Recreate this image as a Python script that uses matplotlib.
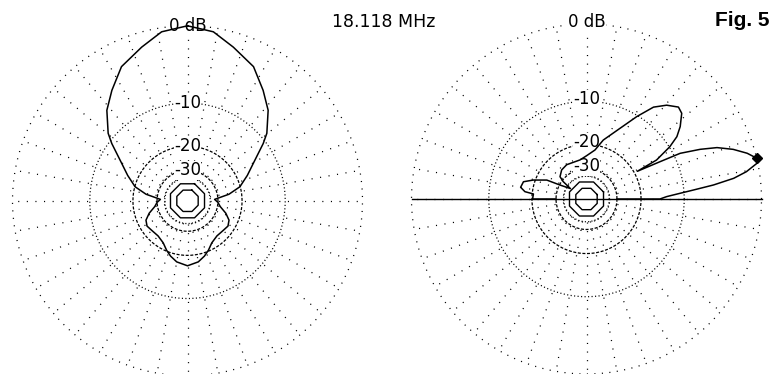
import numpy as np
import matplotlib
matplotlib.use("Agg")
import matplotlib.pyplot as plt

# ---------------- data ----------------
# Azimuth pattern (left), angle clockwise from top, right half (mirrored)
az_angles = [0, 8.7, 16.6, 26.2, 34.4, 41.7, 49.6, 52.9, 60.4, 67, 75, 81, 87,
             93, 100, 108, 115, 122, 130, 140, 150, 157, 163, 170, 180]
az_gain = [0, -0.4, -1.5, -2.7, -4.6, -6.3, -8.9, -10.5, -14.4, -17.0, -20.1, -24.5, -32.0,
           -30.0, -28.5, -25.2, -23.0, -22.3, -22.8, -23.0, -22.0, -20.3, -19.0, -17.8, -17.0]

# Elevation pattern (right), angle counter-clockwise from right horizon
el_angles = [0, 0, 1.7, 3.5, 4.8, 6.3, 8.0, 9.7, 11.8, 13.5, 15.9, 18.7, 21.5, 23.6, 26.0,
             26.9, 28.6, 29.1, 32.1, 34.6, 37.7, 42.0, 45.0, 49.5, 53.9, 58.6, 64.6, 74.1,
             80.2, 90.0, 99.5, 120.0, 130.5, 139.9, 143.3, 147.0, 152.2, 154.5, 160.4,
             164.7, 169.9, 173.2, 174.6, 180, 180]
el_gain = [-30, -14.9, -13.4, -10.7, -8.4, -5.4, -2.8, -1.3, -0.1, 0.0, -0.8, -2.1, -3.8, -5.9,
           -8.9, -12.9, -19.0, -13.4, -9.9, -8.0, -6.7, -5.35, -5.1, -6.0, -7.4, -10.2, -13.8,
           -18.0, -21.6, -24.0, -25.5, -25.5, -26.1, -27.8, -30.9, -38.0, -30.3, -23.7, -19.4,
           -16.9, -16.5, -17.8, -20.4, -20.2, -30]
el_max_angle = 13.5
el_max_gain = 0.0

ring_labels = ["0 dB", "-10", "-20", "-30"]
ring_db = [0, -10, -20, -30]
freq_text = "18.118 MHz"
fig_text = "Fig. 5"

# ---------------- helpers ----------------
FONT = "DejaVu Sans"
PX = 72.0 / 100.0  # points per pixel


def r_of(db):
    """ARRL log scale: radius shrinks by 0.89 every 2 dB."""
    return 0.89 ** (-np.asarray(db, dtype=float) / 2.0)


def dash(on_px, off_px, lw):
    unit = lw / PX
    return (0, (on_px / unit, off_px / unit))


def draw_grid(ax, top_theta, label_dy):
    th = np.linspace(0, 2 * np.pi, 1441)
    lw = 0.9
    # rings
    ax.plot(th, np.full_like(th, r_of(0)), color="k", lw=lw, ls=dash(1.1, 6.4, lw), clip_on=False, zorder=1)
    ax.plot(th, np.full_like(th, r_of(-10)), color="k", lw=lw, ls=dash(1.1, 2.4, lw), clip_on=False, zorder=1)
    ax.plot(th, np.full_like(th, r_of(-20)), color="k", lw=lw, ls=dash(3, 1.6, lw), clip_on=False, zorder=1)
    ax.plot(th, np.full_like(th, r_of(-30)), color="k", lw=lw, ls=dash(3, 1.6, lw), clip_on=False, zorder=1)
    ax.plot(th, np.full_like(th, r_of(-35)), color="k", lw=lw, ls=dash(1.1, 2.2, lw), clip_on=False, zorder=1)
    # small octagons
    oct_t = np.radians(np.arange(22.5, 22.5 + 361, 45))
    for db in (-40, -48):
        ax.plot(oct_t, np.full_like(oct_t, r_of(db) / np.cos(np.radians(22.5))),
                color="k", lw=1.0, clip_on=False, zorder=1)
    # radials every 10 degrees
    r0 = r_of(-35)
    for a in range(0, 360, 10):
        t = np.radians(a)
        ax.plot([t, t], [r0, 1.0], color="k", lw=lw, ls=dash(1.1, 7.5, lw), clip_on=False, zorder=1)
    # labels
    for lab, db in zip(ring_labels, ring_db):
        ax.annotate(lab, (top_theta, r_of(db)), xytext=(0, label_dy), textcoords="offset points",
                    ha="center", va="center", fontsize=12, family=FONT, zorder=3,
                    bbox=dict(boxstyle="square,pad=0.02", fc="white", ec="none"))
    ax.set_ylim(0, 1)
    ax.set_axis_off()


fig = plt.figure(figsize=(7.76, 3.74), dpi=100)
W, H = 776.0, 374.0
R = 175.0

# ---------- left: azimuth ----------
cx, cy = 187.5, 200.8
axL = fig.add_axes([(cx - R) / W, (H - cy - R) / H, 2 * R / W, 2 * R / H], projection="polar")
axL.set_theta_zero_location("N")
axL.set_theta_direction(-1)
draw_grid(axL, 0.0, 0.0)
a = np.array(az_angles)
g = np.array(az_gain)
full_a = np.concatenate([a, 360 - a[::-1]])
full_g = np.concatenate([g, g[::-1]])
axL.plot(np.radians(full_a), r_of(full_g), color="k", lw=1.1, clip_on=False, zorder=4)

# ---------- right: elevation ----------
cx, cy = 586.5, 199.0
axR = fig.add_axes([(cx - R) / W, (H - cy - R) / H, 2 * R / W, 2 * R / H], projection="polar")
axR.set_theta_zero_location("E")
axR.set_theta_direction(1)
draw_grid(axR, np.pi / 2, 1.5)
axR.plot([0, np.pi], [1.0, 1.0], color="k", lw=1.0, clip_on=False, zorder=2)
axR.plot(np.radians(el_angles), r_of(el_gain), color="k", lw=1.1, clip_on=False, zorder=4)
axR.plot([np.radians(el_max_angle)], [r_of(el_max_gain)], marker="D", ms=5, color="k",
         clip_on=False, zorder=5)

# ---------- titles ----------
fig.text(384 / W, 1 - 22 / H, freq_text, ha="center", va="center", fontsize=12.5, family=FONT)
fig.text(742 / W, 1 - 21 / H, fig_text, ha="center", va="center", fontsize=15,
         family="Liberation Sans", weight="bold")

fig.savefig("out.png", dpi=100, facecolor="white")
